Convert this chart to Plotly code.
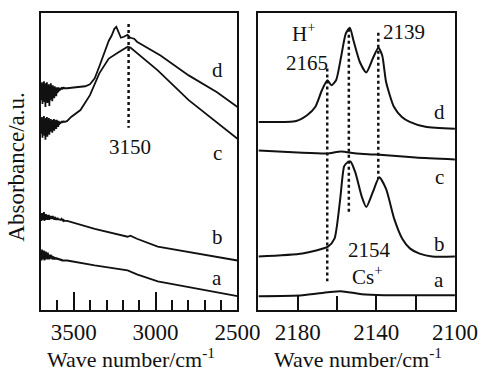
import plotly.graph_objects as go

# ---------------- Left panel: O-H region (3700-2500 cm-1) ----------------
noise_wn = [3700, 3697, 3694, 3691, 3688, 3685, 3682, 3679, 3676, 3673, 3670, 3667, 3664,
            3661, 3658, 3655, 3652, 3649, 3646, 3643, 3640, 3637, 3634, 3631, 3628,
            3625, 3622, 3619, 3616, 3613, 3610, 3607, 3604, 3601, 3598, 3595, 3592,
            3589, 3586, 3583, 3580, 3577, 3574, 3571, 3568, 3565, 3562, 3559, 3556, 3553]
d_noise = [2.26, 2.12, 2.30, 2.08, 2.28, 2.15, 2.31, 2.10, 2.27, 2.05, 2.29, 2.13, 2.30,
           2.09, 2.26, 2.14, 2.28, 2.06, 2.25, 2.12, 2.29, 2.15, 2.24, 2.11, 2.27,
           2.17, 2.25, 2.14, 2.26, 2.18, 2.24, 2.16, 2.25, 2.19, 2.23, 2.20, 2.25,
           2.21, 2.24, 2.22, 2.24, 2.23, 2.25, 2.23, 2.24, 2.24, 2.25, 2.24, 2.24, 2.24]
c_noise = [1.92, 1.78, 1.95, 1.74, 1.93, 1.80, 1.96, 1.76, 1.91, 1.72, 1.94, 1.79, 1.95,
           1.75, 1.92, 1.81, 1.94, 1.77, 1.90, 1.80, 1.93, 1.82, 1.91, 1.79, 1.92,
           1.84, 1.93, 1.81, 1.92, 1.85, 1.91, 1.83, 1.92, 1.86, 1.90, 1.85, 1.91,
           1.87, 1.90, 1.88, 1.90, 1.89, 1.91, 1.89, 1.90, 1.90, 1.91, 1.90, 1.90, 1.90]
b_noise = [0.96, 0.90, 0.98, 0.91, 0.97, 0.92, 0.99, 0.90, 0.96, 0.91, 0.97, 0.92, 0.96,
           0.91, 0.95, 0.92, 0.96, 0.91, 0.95, 0.92, 0.95, 0.92, 0.94, 0.92, 0.95,
           0.92, 0.94, 0.91, 0.94, 0.92, 0.93, 0.91, 0.93, 0.92, 0.93, 0.91, 0.92,
           0.91, 0.92, 0.91, 0.91, 0.91, 0.92, 0.91, 0.91, 0.90, 0.91, 0.90, 0.90, 0.90]
a_noise = [0.57, 0.50, 0.61, 0.51, 0.58, 0.52, 0.60, 0.50, 0.57, 0.51, 0.59, 0.52, 0.56,
           0.51, 0.58, 0.52, 0.56, 0.51, 0.55, 0.52, 0.56, 0.52, 0.55, 0.51, 0.54,
           0.52, 0.54, 0.51, 0.53, 0.52, 0.53, 0.51, 0.53, 0.51, 0.52, 0.51, 0.52,
           0.51, 0.51, 0.51, 0.51, 0.50, 0.51, 0.50, 0.50, 0.50, 0.50, 0.50, 0.50, 0.50]

d_wn = [3540, 3487, 3430, 3401, 3372, 3344, 3315, 3286, 3269, 3252, 3240, 3229,
        3212, 3194, 3171, 3154, 3131, 3114, 3085, 2970, 2798, 2625, 2500]
d_abs = [2.24, 2.25, 2.26, 2.28, 2.34, 2.46, 2.59, 2.72, 2.77, 2.84, 2.86, 2.82,
         2.75, 2.76, 2.78, 2.75, 2.74, 2.71, 2.68, 2.57, 2.37, 2.20, 2.05]
c_wn = [3540, 3516, 3459, 3401, 3344, 3286, 3229, 3171, 3154, 2987, 2798, 2700, 2500]
c_abs = [1.91, 1.95, 2.02, 2.17, 2.39, 2.54, 2.60, 2.66, 2.65, 2.42, 2.12, 1.99, 1.73]
b_wn = [3540, 3372, 3171, 3154, 3114, 2987, 2500]
b_abs = [0.90, 0.82, 0.74, 0.75, 0.72, 0.64, 0.50]
a_wn = [3540, 3372, 3171, 3114, 2987, 2500]
a_abs = [0.50, 0.45, 0.40, 0.36, 0.29, 0.14]

# ---------------- Right panel: CO region (2200-2100 cm-1) ----------------
rd_wn = [2200, 2180.8, 2175.1, 2171.1, 2167.7, 2164.9, 2162.9, 2160.5, 2158.0, 2155.6,
         2153.5, 2151.6, 2148.3, 2145.1, 2141.8, 2139.0, 2137.0, 2135.0, 2131.0,
         2127.0, 2123.0, 2115.0, 2100]
rd_abs = [1.90, 1.91, 1.97, 2.05, 2.22, 2.32, 2.27, 2.32, 2.55, 2.79,
          2.85, 2.72, 2.50, 2.40, 2.54, 2.65, 2.57, 2.30, 2.05,
          1.95, 1.90, 1.85, 1.83]
rc_wn = [2200, 2180, 2165, 2158, 2150, 2140, 2120, 2100]
rc_abs = [1.61, 1.59, 1.58, 1.60, 1.58, 1.57, 1.54, 1.52]
rb_wn = [2200, 2177.6, 2164.6, 2161.3, 2158.4, 2156.4, 2154.8, 2153.2, 2150.7, 2147.5,
         2145.1, 2141.8, 2138.5, 2135.0, 2130.9, 2126.8, 2122.8, 2118.0, 2111.6, 2100]
rb_abs = [0.54, 0.57, 0.64, 0.72, 1.12, 1.45, 1.49, 1.50, 1.39, 1.15,
          1.04, 1.19, 1.34, 1.22, 0.92, 0.72, 0.62, 0.57, 0.54, 0.54]
ra_wn = [2200, 2177.6, 2164.6, 2158, 2147.5, 2136, 2100]
ra_abs = [0.14, 0.15, 0.18, 0.19, 0.16, 0.15, 0.15]

# dotted marker lines (position, top, bottom)
left_mark = (3165, 2.89, 1.84)
right_marks = [(2165, 2.44, 0.29), (2154, 2.84, 0.99), (2139, 2.80, 1.32)]

left_ticks = [3500, 3000, 2500]
right_tick_labels = [2180, 2140, 2100]
right_tick_marks = [2180, 2160, 2140, 2120]

FONT = "Liberation Serif, Times New Roman, serif"
INK = "#111111"

fig = go.Figure()

for wn, ab in [(noise_wn + d_wn, d_noise + d_abs), (noise_wn + c_wn, c_noise + c_abs),
               (noise_wn + b_wn, b_noise + b_abs), (noise_wn + a_wn, a_noise + a_abs)]:
    fig.add_trace(go.Scatter(x=wn, y=ab, mode="lines", line=dict(color=INK, width=1.8),
                             xaxis="x", yaxis="y", showlegend=False, hoverinfo="skip"))
for wn, ab in [(rd_wn, rd_abs), (rc_wn, rc_abs), (rb_wn, rb_abs), (ra_wn, ra_abs)]:
    fig.add_trace(go.Scatter(x=wn, y=ab, mode="lines",
                             line=dict(color=INK, width=2, shape="spline", smoothing=0.6),
                             xaxis="x2", yaxis="y2", showlegend=False, hoverinfo="skip"))

dot = dict(color=INK, width=2.5, dash="dot")
fig.add_trace(go.Scatter(x=[left_mark[0], left_mark[0]], y=[left_mark[1], left_mark[2]],
                         mode="lines", line=dot, xaxis="x", yaxis="y",
                         showlegend=False, hoverinfo="skip"))
for pos, top, bot in right_marks:
    fig.add_trace(go.Scatter(x=[pos, pos], y=[top, bot], mode="lines", line=dot,
                             xaxis="x2", yaxis="y2", showlegend=False, hoverinfo="skip"))

tickfont = dict(family=FONT, size=23, color=INK)
axis_common = dict(showline=True, mirror=True, linecolor=INK, linewidth=2,
                   showgrid=False, zeroline=False, tickfont=tickfont)

fig.update_layout(
    width=497, height=374,
    margin=dict(l=0, r=0, t=13, b=64),
    paper_bgcolor="white", plot_bgcolor="white",
    xaxis=dict(domain=[43 / 497, 249 / 497], range=[3700, 2500], anchor="y",
               tickmode="array", tickvals=left_ticks, ticks="inside", ticklen=18,
               tickwidth=1.5, tickcolor=INK, ticklabelstandoff=0,
               minor=dict(tickmode="linear", tick0=2500, dtick=100, ticks="inside",
                          ticklen=10, tickwidth=1.5, tickcolor=INK),
               **axis_common),
    xaxis2=dict(domain=[271 / 497, 477 / 497], range=[2200, 2100], anchor="y2",
                tickmode="array", tickvals=right_tick_labels, ticks="",
                ticklabelstandoff=0,
                minor=dict(tickmode="array", tickvals=right_tick_marks, ticks="inside",
                           ticklen=14, tickwidth=1.5, tickcolor=INK),
                **axis_common),
    yaxis=dict(domain=[0, 1], range=[0, 3], anchor="x", showticklabels=False, ticks="",
               **axis_common),
    yaxis2=dict(domain=[0, 1], range=[0, 3], anchor="x2", showticklabels=False, ticks="",
                **axis_common),
)

afont = dict(family=FONT, size=21, color=INK)
ann = []
# left panel curve labels
for txt, yv in [("d", 2.42), ("c", 1.59), ("b", 0.74), ("a", 0.32)]:
    ann.append(dict(x=2625, y=yv, xref="x", yref="y", text=txt))
ann.append(dict(x=3154, y=1.65, xref="x", yref="y", text="3150"))
# right panel labels
for txt, yv in [("d", 2.00), ("c", 1.34), ("b", 0.67), ("a", 0.30)]:
    ann.append(dict(x=2108, y=yv, xref="x2", yref="y2", text=txt))
ann.append(dict(x=2177, y=2.80, xref="x2", yref="y2", text="H<sup>+</sup>"))
ann.append(dict(x=2175.2, y=2.50, xref="x2", yref="y2", text="2165"))
ann.append(dict(x=2126, y=2.81, xref="x2", yref="y2", text="2139"))
ann.append(dict(x=2143.5, y=0.61, xref="x2", yref="y2", text="2154"))
ann.append(dict(x=2145, y=0.35, xref="x2", yref="y2", text="Cs<sup>+</sup>"))
# axis titles
ann.append(dict(x=17 / 497, y=0.48, xref="paper", yref="paper", text="Absorbance/a.u.",
                textangle=-90, font=dict(family=FONT, size=23, color=INK)))
ann.append(dict(x=137 / 497, y=-0.16, xref="paper", yref="paper",
                text="Wave number/cm<sup>-1</sup>", font=dict(family=FONT, size=22, color=INK)))
ann.append(dict(x=375 / 497, y=-0.16, xref="paper", yref="paper",
                text="Wave number/cm<sup>-1</sup>", font=dict(family=FONT, size=22, color=INK)))
for a in ann:
    a.setdefault("font", afont)
    a.update(showarrow=False, xanchor="center", yanchor="middle")
fig.update_layout(annotations=ann)

fig.write_html("out.html", config={"displayModeBar": False},
               post_script="document.body.style.margin='0';")
